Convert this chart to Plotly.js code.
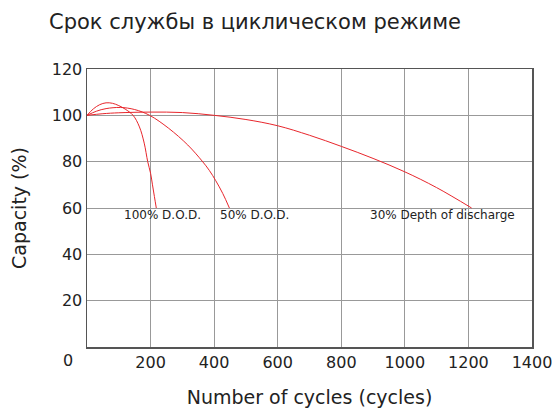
<!DOCTYPE html>
<html>
<head>
<meta charset="utf-8">
<script src="https://cdn.plot.ly/plotly-3.0.1.min.js"></script>
<style>html,body{margin:0;padding:0;background:#fff;}#chart{width:558px;height:417px;}</style>
</head>
<body>
<div id="chart"></div>
<script>
const titleText = "Срок службы в циклическом режиме";
const xTitle = "Number of cycles (cycles)";
const yTitle = "Capacity (%)";

const dod100X = [0, 20, 40, 60, 80, 100, 120, 145, 165, 180, 191, 200, 206, 212, 218];
const dod100Y = [100, 102.8, 104.6, 105.4, 105.2, 104.2, 102.7, 100, 95, 88, 80, 75, 70, 65, 60];

const dod50X = [0, 30, 60, 105, 150, 197, 257, 317, 362, 385, 405, 427, 448];
const dod50Y = [100, 101.8, 102.9, 103.4, 102.5, 100, 94.4, 87.2, 80.3, 76.2, 71.8, 66.3, 60];

const dod30X = [0, 50, 100, 200, 300, 400, 500, 600, 700, 800, 900, 1000, 1100, 1210];
const dod30Y = [100, 100.7, 101.1, 101.4, 101.2, 100, 98.2, 95.5, 91.4, 86.6, 81.4, 75.6, 68.8, 60];

const labels = ["100% D.O.D.", "50% D.O.D.", "30% Depth of discharge"];
const labelX = [236, 526, 1118];
const labelY = [57, 57, 57];

const xTicks = [200, 400, 600, 800, 1000, 1200, 1400];
const yTicks = [20, 40, 60, 80, 100, 120];

const font = "DejaVu Sans, sans-serif";
const red = "#e8262c";

const mk = (x, y) => ({x: x, y: y, type: "scatter", mode: "lines",
  line: {color: red, width: 1, shape: "spline", smoothing: 1}, hoverinfo: "skip", showlegend: false});

const data = [mk(dod100X, dod100Y), mk(dod50X, dod50Y), mk(dod30X, dod30Y)];

const annotations = labels.map((t, i) => ({
  x: labelX[i], y: labelY[i], xref: "x", yref: "y", text: t, showarrow: false,
  font: {family: font, size: 12, color: "#222"}, xanchor: "center", yanchor: "middle"
}));
annotations.push({x: 0, y: 0, xref: "x", yref: "y", text: "0", showarrow: false,
  xshift: -19, yshift: -13, font: {family: font, size: 16, color: "#222"}, xanchor: "center", yanchor: "middle"});

const layout = {
  width: 558, height: 417,
  margin: {l: 87, r: 26, t: 69, b: 70, pad: 0},
  paper_bgcolor: "#fff", plot_bgcolor: "#fff",
  title: {text: titleText, x: 255/558, xanchor: "center", xref: "container", y: 1 - 22/417, yanchor: "middle",
    yref: "container", font: {family: font, size: 21, color: "#222"}},
  xaxis: {range: [0, 1400], tickvals: xTicks, ticks: "", showgrid: true, gridcolor: "#999", gridwidth: 1,
    showline: true, linecolor: "#555", linewidth: 1.5, mirror: true, zeroline: false,
    tickfont: {family: font, size: 16, color: "#222"},
    title: {text: xTitle, font: {family: font, size: 19, color: "#222"}, standoff: 20}},
  yaxis: {range: [0, 120], tickvals: yTicks, ticks: "", showgrid: true, gridcolor: "#999", gridwidth: 1,
    showline: true, linecolor: "#555", linewidth: 1.5, mirror: true, zeroline: false,
    tickfont: {family: font, size: 16, color: "#222"},
    title: {text: yTitle, font: {family: font, size: 19, color: "#222"}, standoff: 20}},
  annotations: annotations
};

Plotly.newPlot("chart", data, layout, {staticPlot: true, displayModeBar: false});
</script>
</body>
</html>
